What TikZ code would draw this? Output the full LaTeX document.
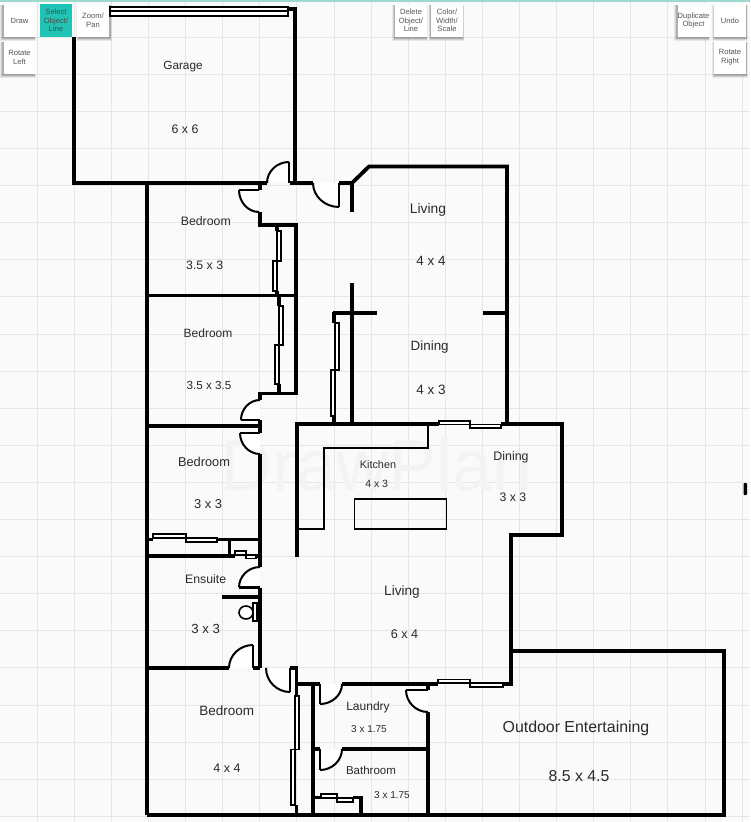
\documentclass[tikz,border=0pt]{standalone}
\usepackage{fontspec}
\setmainfont{Liberation Sans}
\usetikzlibrary{calc}
\definecolor{bgc}{HTML}{FAFAFA}
\definecolor{gridc}{HTML}{E6E6E6}
\definecolor{tealc}{HTML}{1FC4B4}
\definecolor{topc}{HTML}{9FD8CC}
\definecolor{wmc}{HTML}{F3F3F4}
\definecolor{txtc}{HTML}{2A2A2A}
\definecolor{btnt}{HTML}{555555}
\tikzset{
  wall/.style={draw=black,line width=3.8pt,line join=miter,line cap=butt},
  inner/.style={draw=black,line width=2.2pt},
  slide/.style={draw=black,fill=white,line width=1.3pt},
  gridl/.style={draw=gridc,line width=0.8pt},
  doorf/.style={fill=white,draw=none},
  doorarc/.style={draw=black,line width=2pt},
  doorleaf/.style={draw=black,line width=2.6pt},
  roomlab/.style={text=txtc,inner sep=0pt,yshift=-1.4pt,text height=0.72em,text depth=0pt,font=\fontsize{#1}{#1}\selectfont},
  btn/.style={fill=white,draw=none,minimum width=32pt,minimum height=33pt,inner sep=0pt,text=btnt,
    align=center,font=\fontsize{7.6}{8.7}\selectfont},
}
% \doordraw{hinge}{arc start}{leaf end}
\newcommand{\doordraw}[3]{%
  \coordinate (dh) at (#1); \coordinate (da) at (#2); \coordinate (dl) at (#3);
  \fill[doorf] (dh) -- (da) .. controls ($(da)+0.55*(dl)-0.55*(dh)$) and ($(dl)+0.55*(da)-0.55*(dh)$) .. (dl) -- cycle;
  \draw[doorarc] (da) .. controls ($(da)+0.55*(dl)-0.55*(dh)$) and ($(dl)+0.55*(da)-0.55*(dh)$) .. (dl);
  \draw[doorleaf] (dh) -- (dl);
}
% \btnshadow{cx}{cy}{dx}
\newcommand{\btnshadow}[3]{%
  \fill[black,opacity=0.07] ($(#1,#2)+(-17.8+#3,-15.5)$) rectangle ($(#1,#2)+(17.8+#3,20.2)$);
  \fill[black,opacity=0.10] ($(#1,#2)+(-17.2+#3,-15.5)$) rectangle ($(#1,#2)+(17.2+#3,19.4)$);
  \fill[black,opacity=0.16] ($(#1,#2)+(-16.5+#3,-15.5)$) rectangle ($(#1,#2)+(16.5+#3,18.6)$);
}
\begin{document}
\begin{tikzpicture}[x=1pt,y=-1pt]
\useasboundingbox (0,0) rectangle (750,822);
\fill[bgc] (0,0) rectangle (750,822);
% grid
\foreach \k in {1,...,20} {\draw[gridl] ({37.1*\k},0) -- ({37.1*\k},822);}
\foreach \k in {1,...,22} {\draw[gridl] (0,{37.1*\k}) -- (750,{37.1*\k});}
\fill[topc] (0,0) rectangle (750,1.5);
% watermark
\node[text=wmc,inner sep=0pt,anchor=base west,font=\fontsize{72}{72}\selectfont] (wm) at (220,490) {DrawPlan};

% doors
\doordraw{289,183}{267,183}{289,162}
\doordraw{339,183}{313,183}{339,207}
\doordraw{259,190}{259,212}{239,190}
\doordraw{260,420}{260,400}{241,420}
\doordraw{260,433}{260,454}{240,433}
\doordraw{260,587.5}{260,567}{239,587.5}
\doordraw{253,668}{229,668}{253,645}
\doordraw{290,668}{266,668}{290,692}
\doordraw{320,684}{342,684}{320,704}
\doordraw{320,749}{342,749}{320,770}
\doordraw{428,690}{428,712}{406,690}

% garage door
\draw[black,line width=1.8pt,fill=white] (110,6.8) rectangle (288,15.8);
\draw[black,line width=1.6pt] (110,11.2) -- (288,11.2);
% garage
\draw[wall] (74,37) -- (74,183) -- (267,183);
\draw[wall] (288,9) -- (295,9) -- (295,183);
\draw[wall] (290,183) -- (313,183);
% living top
\draw[wall] (339,183) -- (352,183) -- (369,166.5) -- (507,166.5) -- (507,424);
\draw[wall] (352,183) -- (352,212);
\draw[wall] (483,313) -- (507,313);
\draw[wall] (352,283) -- (352,424);
\draw[wall] (333,313) -- (377,313);
\draw[wall] (334,311.5) -- (334,323);
\draw[wall] (334,416) -- (334,424);
\draw[slide] (335,323) rectangle (339,370);
\draw[slide] (331,370) rectangle (335,416);
% bedrooms left
\draw[wall] (147,183) -- (147,815);
\draw[wall] (260,183) -- (260,190);
\draw[wall] (260,212) -- (260,225) -- (296,225) -- (296,393.5) -- (260,393.5) -- (260,400);
\draw[wall] (147,295.5) -- (296,295.5);
\draw[wall] (277,225) -- (277,231);
\draw[wall] (277,291) -- (277,295) ;
\draw[slide] (277,231) rectangle (281,261);
\draw[slide] (273,261) rectangle (277,291);
\draw[wall] (279,295) -- (279,306);
\draw[wall] (279,384) -- (279,393);
\draw[slide] (279,306) rectangle (283,345);
\draw[slide] (275,345) rectangle (279,384);
\draw[wall] (147,426) -- (260,426);
\draw[wall] (260,420) -- (260,433);
\draw[wall] (260,454) -- (260,567);
\draw[wall] (260,587.5) -- (260,668);
% bedroom 3 robe
\draw[wall] (147,539.5) -- (153,539.5);
\draw[wall] (217,539.5) -- (260,539.5);
\draw[slide] (153,534) rectangle (186,538);
\draw[slide] (186,538) rectangle (217,542);
\draw[wall] (229.5,539.5) -- (229.5,556);
\draw[wall] (147,556) -- (235,556);
\draw[wall] (256,556) -- (260,556);
\draw[slide] (235,551) rectangle (246,555);
\draw[slide] (246,555) rectangle (256,558.5);
% ensuite
\draw[wall] (222,597) -- (260,597);
\draw[slide,line width=1.8pt] (253,603) rectangle (257,621);
\draw[black,fill=white,line width=1.6pt] (246,612.5) ellipse [x radius=7,y radius=6.5];
% bedroom 4
\draw[wall] (147,668) -- (229,668);
\draw[wall] (253,668) -- (260,668);
\draw[wall] (290,668) -- (296.5,668) -- (296.5,696);
\draw[slide] (295,696) rectangle (299,749.5);
\draw[slide] (291,749.5) rectangle (295,805);
\draw[wall] (296.5,805) -- (296.5,815);
\draw[wall] (296.5,684) -- (320,684);
\draw[wall] (313,684) -- (313,815);
\draw[wall] (342,684) -- (438,684);
\draw[wall] (428,684) -- (428,690);
\draw[wall] (428,712) -- (428,815);
\draw[wall] (313,749) -- (320,749);
\draw[wall] (342,749) -- (428,749);
% bathroom robe
\draw[wall] (313,797.5) -- (321,797.5);
\draw[slide] (321,794) rectangle (337,798);
\draw[slide] (337,798) rectangle (353,802);
\draw[wall] (353,797.5) -- (361,797.5) -- (361,815);
% kitchen / family
\draw[wall] (297,557) -- (297,424) -- (439,424);
\draw[slide] (439,421) rectangle (470,424.5);
\draw[slide] (470,424.5) rectangle (501,428);
\draw[wall] (501,424) -- (562,424) -- (562,535) -- (511,535) -- (511,684) -- (503,684);
\draw[slide] (438,679.5) rectangle (470,683);
\draw[slide] (470,683) rectangle (503,687);
\draw[inner] (428,424) -- (428,448) -- (324,448) -- (324,529) -- (297,529);
\draw[black,line width=1.8pt,fill=none] (354.5,499) rectangle (446.5,529);
% outdoor
\draw[wall] (511,651) -- (724,651) -- (724,815) -- (147,815);

% labels
\node[roomlab=11.8] (lgarage) at (183,64) {Garage};
\node[roomlab=12.4] (sgarage) at (185,128) {6 x 6};
\node[roomlab=12.3] (lbed1) at (205.8,220) {Bedroom};
\node[roomlab=12.3] (sbed1) at (204.7,264) {3.5 x 3};
\node[roomlab=12] (lbed2) at (208,332) {Bedroom};
\node[roomlab=11.7] (sbed2) at (209,384) {3.5 x 3.5};
\node[roomlab=12.8] (lbed3) at (204,461) {Bedroom};
\node[roomlab=12.9] (sbed3) at (208,503) {3 x 3};
\node[roomlab=12.3] (lens) at (205.7,578) {Ensuite};
\node[roomlab=13.2] (sens) at (205.7,628.5) {3 x 3};
\node[roomlab=13.5] (lbed4) at (226.7,710) {Bedroom};
\node[roomlab=12.5] (sbed4) at (227,767) {4 x 4};
\node[roomlab=12] (llau) at (368,705.5) {Laundry};
\node[roomlab=10] (slau) at (369,727) {3 x 1.75};
\node[roomlab=11.5] (lbath) at (371,769) {Bathroom};
\node[roomlab=10] (sbath) at (392,793) {3 x 1.75};
\node[roomlab=13.8] (lliv) at (428,208) {Living};
\node[roomlab=13.4] (sliv) at (431,260) {4 x 4};
\node[roomlab=13.4] (ldin) at (429.7,345) {Dining};
\node[roomlab=13.5] (sdin) at (431,389) {4 x 3};
\node[roomlab=10.8] (lkit) at (378,463) {Kitchen};
\node[roomlab=10.5] (skit) at (376.7,482) {4 x 3};
\node[roomlab=12.4] (ldin2) at (511,455.5) {Dining};
\node[roomlab=12.3] (sdin2) at (513,496) {3 x 3};
\node[roomlab=13.6] (lliv2) at (402,590) {Living};
\node[roomlab=12.6] (sliv2) at (404.5,633) {6 x 4};
\node[roomlab=15.9] (lout) at (576,727) {Outdoor Entertaining};
\node[roomlab=15.8] (sout) at (579,776) {8.5 x 4.5};

% toolbar
\btnshadow{19}{20.5}{-1}
\btnshadow{93}{20.5}{1}
\btnshadow{19}{57.5}{-1}
\btnshadow{411}{20.5}{-1}
\btnshadow{446.5}{20.5}{0}
\btnshadow{693}{20.5}{-1}
\btnshadow{730}{20.5}{0}
\btnshadow{730}{57.5}{0}
\node[btn] (bdraw) at (19.5,20.5) {Draw};
\node[btn,fill=tealc,text=btnt!90!black] (bsel) at (56,20.5) {Select\\Object/\\Line};
\node[btn] (bzoom) at (93,20.5) {Zoom/\\Pan};
\node[btn] (brotl) at (19.5,57.5) {Rotate\\Left};
\node[btn] (bdel) at (411,20.5) {Delete\\Object/\\Line};
\node[btn] (bcol) at (447,20.5) {Color/\\Width/\\Scale};
\node[btn] (bdup) at (693.5,20.5) {Duplicate\\Object};
\node[btn] (bundo) at (730,20.5) {Undo};
\node[btn] (brotr) at (730,57.5) {Rotate\\Right};
% scroll marker
\fill[black,rounded corners=0.8pt] (743.5,483) rectangle (747,495);
\end{tikzpicture}
\end{document}
